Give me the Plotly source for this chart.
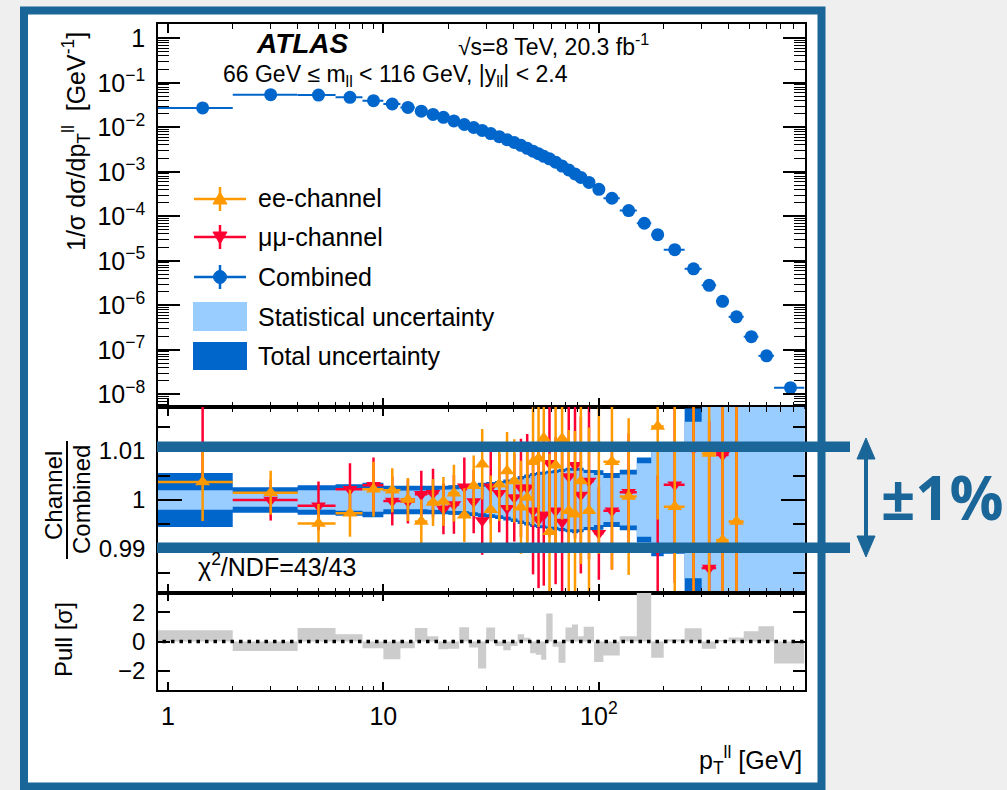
import math
import plotly.graph_objects as go

# ---------------- data ----------------
edges = [0, 2, 4, 6, 8, 10, 12, 14, 16, 18, 20, 22.5, 25, 27.5, 30, 33, 36, 39, 42, 45, 48,
         51, 54, 57, 61, 65, 70, 75, 80, 85, 95, 105, 125, 150, 175, 200, 250, 300, 350,
         400, 470, 550, 650, 900]
centers = [1.45, 3, 5, 7, 9, 11, 13, 15, 17, 19, 21.25, 23.75, 26.25, 28.75, 31.5, 34.5,
           37.5, 40.5, 43.5, 46.5, 49.5, 52.5, 55.5, 59, 63, 67.5, 72.5, 77.5, 82.5, 90,
           100, 115, 137.5, 162.5, 187.5, 225, 275, 325, 375, 435, 510, 600, 775]
combined = [0.0272, 0.0540, 0.0530, 0.0472, 0.0396, 0.0334, 0.0279, 0.0230, 0.0194, 0.0167,
            0.01386, 0.01156, 0.00990, 0.00851, 0.00722, 0.00615, 0.00524, 0.00455, 0.00394,
            0.00336, 0.00290, 0.00254, 0.00223, 0.00195, 0.00164, 0.00134, 0.00110, 0.000893,
            0.000745, 0.000575, 0.000404, 0.000254, 0.000134, 6.97e-5, 3.86e-5, 1.78e-5,
            6.6e-6, 2.81e-6, 1.23e-6, 5.5e-7, 1.97e-7, 7.3e-8, 1.41e-8]
ee_ratio = [1.0037, 1.0015, 0.9952, 0.9973, 1.0022, 1.0020, 1.0001, 0.9956, 0.9995, 0.9997,
            1.0014, 0.9969, 1.0029, 1.0073, 0.9980, 1.0032, 1.0059, 1.0039, 0.9985, 1.0005,
            1.0078, 1.0085, 1.0126, 0.9935, 1.0071, 1.0125, 0.9978, 0.9971, 1.0039, 0.9978,
            1.0110, 1.0078, 1.0007, None, 1.0150, 0.9986, 0.9905, 1.0095, 0.9918, 0.9956,
            None, None, None]
ee_err = [0.0080, 0.0045, 0.0040, 0.0048, 0.0056, 0.0045, 0.0044, 0.0045, 0.0048, 0.0050,
          0.0058, 0.0055, 0.0062, 0.0072, 0.0070, 0.0075, 0.0080, 0.0085, 0.0095, 0.0110,
          0.0130, 0.0140, 0.0150, 0.0160, 0.0160, 0.0165, 0.0165, 0.0170, 0.0170, 0.0170,
          0.0220, 0.0220, 0.0160, None, 0.0190, 0.0250, 0.0300, 0.0300, 0.0350, 0.0400,
          None, None, None]
mm_ratio = [1.0112, 1.0000, 0.9988, 1.0022, 1.0030, 0.9998, 0.9997, 1.0012, 1.0014, 0.9982,
            0.9991, 1.0027, 0.9997, 0.9958, 1.0027, 1.0014, 0.9983, 1.0005, 1.0025, 1.0025,
            0.9978, 0.9960, 0.9970, 1.0075, 0.9978, 0.9955, 1.0048, 1.0071, 1.0010, 1.0039,
            0.9932, 0.9978, 1.0016, None, 0.9900, 1.0031, 1.0105, 0.9861, 1.0092, 1.0108,
            None, None, None]
mm_err = [0.0085, 0.0042, 0.0050, 0.0053, 0.0057, 0.0050, 0.0045, 0.0048, 0.0050, 0.0052,
          0.0060, 0.0060, 0.0065, 0.0070, 0.0075, 0.0080, 0.0085, 0.0090, 0.0100, 0.0110,
          0.0130, 0.0140, 0.0145, 0.0150, 0.0150, 0.0155, 0.0150, 0.0150, 0.0160, 0.0160,
          0.0095, 0.0120, 0.0120, None, 0.0150, 0.0200, 0.0300, 0.0300, 0.0350, 0.0400,
          None, None, None]
tot_unc = [0.0055, 0.0026, 0.0030, 0.0032, 0.0035, 0.0029, 0.0028, 0.0028, 0.0028, 0.0029,
           0.0030, 0.0031, 0.0033, 0.0035, 0.0037, 0.0039, 0.0042, 0.0045, 0.0049, 0.0052,
           0.0055, 0.0057, 0.0058, 0.0060, 0.0062, 0.0064, 0.0066, 0.0068, 0.0066, 0.0062,
           0.0061, 0.0055, 0.0062, 0.0087, 0.0115, 0.0110, 0.0187, 0.040, 0.045, 0.050,
           0.060, 0.070, 0.080]
stat_unc = [0.0020, 0.0014, 0.0020, 0.0022, 0.0024, 0.0019, 0.0019, 0.0019, 0.0020, 0.0021,
            0.0022, 0.0023, 0.0025, 0.0027, 0.0029, 0.0031, 0.0034, 0.0038, 0.0042, 0.0045,
            0.0049, 0.0051, 0.0052, 0.0054, 0.0055, 0.0057, 0.0060, 0.0061, 0.0060, 0.0055,
            0.0051, 0.0045, 0.0052, 0.0075, 0.0105, 0.0100, 0.0160, 0.035, 0.040, 0.045,
            0.055, 0.065, 0.075]
pull = [0.76, -0.64, 0.92, 0.50, -0.46, -1.20, -0.46, 0.92, 0.35, -0.53,
        -0.50, 0.97, -0.40, -1.84, 0.95, -0.30, -0.60, -0.30, 0.50, 0.25,
        -0.80, -0.90, -1.25, 1.90, -0.35, -1.45, 0.95, 1.15, 0.35, 1.00,
        -1.40, -0.95, 0.35, 4.00, -1.10, 0.15, 0.90, -0.50, 0.10, 0.28,
        0.69, 1.03, -1.49]

x_tickvals = [1, 10, 100]
x_ticktext = ["1", "10", "10<sup>2</sup>"]
y_main_ticktext = ["1", "10<sup>−1</sup>", "10<sup>−2</sup>", "10<sup>−3</sup>", "10<sup>−4</sup>",
                   "10<sup>−5</sup>", "10<sup>−6</sup>", "10<sup>−7</sup>", "10<sup>−8</sup>"]
ratio_tickvals = [0.99, 1.0, 1.01]
ratio_ticktext = ["0.99", "1", "1.01"]
pull_tickvals = [-2, 0, 2]
pull_ticktext = ["−2", "0", "2"]

# ---------------- styling ----------------
W, H = 1007, 790
FONT = "Liberation Sans, Arial, sans-serif"
BLUE = "#0066cc"
LIGHT = "#99ccff"
ORANGE = "#ff9900"
RED = "#ff0033"
SLIDE = "#1b6698"
XMIN, XMAX = 0.9, 900
FL, FR = 158, 804.5  # frame in pixels


def P(px):
    return px / W


def Q(py):
    return 1 - py / H


X_DOM = [P(FL), P(FR)]
lo_edges = [max(e, 0.5) for e in edges[:-1]]
hi_edges = edges[1:]
ex_plus = [h - c for h, c in zip(hi_edges, centers)]
ex_minus = [c - l for l, c in zip(lo_edges, centers)]

fig = go.Figure()

# main panel: combined
fig.add_trace(go.Scatter(
    x=centers, y=combined, mode="markers", xaxis="x", yaxis="y",
    marker=dict(symbol="circle", size=13, color=BLUE),
    error_x=dict(type="data", symmetric=False, array=ex_plus, arrayminus=ex_minus,
                 thickness=2, width=0, color=BLUE),
))


# ratio panel bands
def band_poly(half):
    xs, up, dn = [], [], []
    for l, h, v in zip(lo_edges, hi_edges, half):
        xs += [l, h]
        up += [1 + v, 1 + v]
        dn += [1 - v, 1 - v]
    return xs + xs[::-1], up + dn[::-1]


for half, col in ((tot_unc, BLUE), (stat_unc, LIGHT)):
    bx, by = band_poly(half)
    fig.add_trace(go.Scatter(x=bx, y=by, mode="lines", fill="toself", fillcolor=col,
                             line=dict(width=0, color=col), xaxis="x2", yaxis="y2",
                             hoverinfo="skip"))


def chan_trace(vals, errs, col, sym):
    xs, ys, es, ep, em = [], [], [], [], []
    for c, v, e, p, m in zip(centers, vals, errs, ex_plus, ex_minus):
        if v is None:
            continue
        xs.append(c); ys.append(v); es.append(e); ep.append(p); em.append(m)
    return go.Scatter(
        x=xs, y=ys, mode="markers", xaxis="x2", yaxis="y2",
        marker=dict(symbol=sym, size=13, color=col),
        error_y=dict(type="data", array=es, thickness=2.5, width=0, color=col),
        error_x=dict(type="data", symmetric=False, array=ep, arrayminus=em,
                     thickness=2.5, width=0, color=col),
        cliponaxis=True,
    )


fig.add_trace(chan_trace(mm_ratio, mm_err, RED, "triangle-down"))
fig.add_trace(chan_trace(ee_ratio, ee_err, ORANGE, "triangle-up"))

# pull panel
fig.add_trace(go.Scatter(
    x=lo_edges + [hi_edges[-1]], y=pull + [pull[-1]], mode="lines", line_shape="hv",
    fill="tozeroy", fillcolor="#cccccc", line=dict(width=0, color="rgba(0,0,0,0)"),
    xaxis="x3", yaxis="y3", hoverinfo="skip"))
fig.add_trace(go.Scatter(
    x=[0.5, 1000], y=[0, 0], mode="lines", line=dict(color="black", width=3.5, dash="3.5px,5px"),
    xaxis="x3", yaxis="y3", hoverinfo="skip"))

x_minor = [k * 10 ** d for d in range(-1, 3) for k in range(2, 10)]
y_minor = [k * 10.0 ** d for d in range(-9, 1) for k in range(2, 10)]


def xax(anchor, mj, mn, labels):
    return dict(
        type="log", range=[math.log10(XMIN), math.log10(XMAX)], domain=X_DOM, anchor=anchor,
        showgrid=False, zeroline=False, showline=True, linecolor="black", linewidth=1.6,
        mirror="ticks", ticks="inside", ticklen=mj, tickwidth=1.5, tickcolor="black",
        tickmode="array", tickvals=x_tickvals, ticktext=x_ticktext, showticklabels=labels,
        tickfont=dict(size=25, color="black", family=FONT), ticklabelstandoff=3,
        minor=dict(ticks="inside", ticklen=mn, tickwidth=1.2, tickcolor="black",
                   tickmode="array", tickvals=x_minor, showgrid=False),
    )


layout = dict(
    width=W, height=H, margin=dict(l=0, r=0, t=0, b=0),
    paper_bgcolor="#efefef", plot_bgcolor="white", showlegend=False,
    font=dict(family=FONT, color="black"),
    xaxis=xax("y", 9, 5, False),
    xaxis2=xax("y2", 9, 5, False),
    xaxis3=xax("y3", 8, 4, True),
    yaxis=dict(
        type="log", range=[-8.286, 0.321], domain=[Q(407), Q(24)], anchor="x",
        showgrid=False, zeroline=False, showline=True, linecolor="black", linewidth=1.6,
        mirror="ticks", ticks="inside", ticklen=22, tickwidth=1.5, tickcolor="black",
        tickmode="array", tickvals=[10.0 ** -k for k in range(9)], ticktext=y_main_ticktext,
        tickfont=dict(size=25, color="black", family=FONT), ticklabelstandoff=6,
        minor=dict(ticks="inside", ticklen=11, tickwidth=1.2, tickcolor="black",
                   tickmode="array", tickvals=y_minor, showgrid=False),
    ),
    yaxis2=dict(
        range=[0.981, 1.019], domain=[Q(593), Q(407)], anchor="x2",
        showgrid=False, zeroline=False, showline=True, linecolor="black", linewidth=1.6,
        mirror="ticks", ticks="inside", ticklen=24, tickwidth=1.5, tickcolor="black",
        tickmode="array", tickvals=ratio_tickvals, ticktext=ratio_ticktext,
        tickfont=dict(size=24, color="black", family=FONT), ticklabelstandoff=6,
        minor=dict(ticks="inside", ticklen=12, tickwidth=1.5, tickcolor="black",
                   tickmode="array", tickvals=[0.985, 0.995, 1.005, 1.015], showgrid=False),
    ),
    yaxis3=dict(
        range=[-3.3, 3.3], domain=[Q(690), Q(593)], anchor="x3",
        showgrid=False, zeroline=False, showline=True, linecolor="black", linewidth=1.6,
        mirror="ticks", ticks="inside", ticklen=12, tickwidth=1.5, tickcolor="black",
        tickmode="array", tickvals=pull_tickvals, ticktext=pull_ticktext,
        tickfont=dict(size=24, color="black", family=FONT), ticklabelstandoff=6,
    ),
)
fig.update_layout(**layout)

shapes = []
# slide frame
shapes.append(dict(type="rect", xref="paper", yref="paper", layer="below",
                   x0=P(24), x1=P(821.5), y0=Q(786.5), y1=Q(10.5),
                   line=dict(color=SLIDE, width=8), fillcolor="white"))


# legend symbols
def leg_marker(py, col, kind):
    out = [
        dict(type="line", xref="paper", yref="paper", x0=P(194), x1=P(246), y0=Q(py), y1=Q(py),
             line=dict(color=col, width=2.5)),
        dict(type="line", xref="paper", yref="paper", x0=P(220), x1=P(220), y0=Q(py - 12),
             y1=Q(py + 12), line=dict(color=col, width=2.5)),
    ]
    if kind == "up":
        path = "M %f,%f L %f,%f L %f,%f Z" % (P(213), Q(py + 5), P(227), Q(py + 5), P(220), Q(py - 7))
        out.append(dict(type="path", xref="paper", yref="paper", path=path, fillcolor=col,
                        line=dict(color=col, width=1)))
    elif kind == "down":
        path = "M %f,%f L %f,%f L %f,%f Z" % (P(213), Q(py - 5), P(227), Q(py - 5), P(220), Q(py + 7))
        out.append(dict(type="path", xref="paper", yref="paper", path=path, fillcolor=col,
                        line=dict(color=col, width=1)))
    else:
        out.append(dict(type="circle", xref="paper", yref="paper", x0=P(213.5), x1=P(226.5),
                        y0=Q(py + 6.5), y1=Q(py - 6.5), fillcolor=col, line=dict(color=col, width=1)))
    return out


shapes += leg_marker(199, ORANGE, "up")
shapes += leg_marker(237, RED, "down")
shapes += leg_marker(277, BLUE, "circle")
shapes.append(dict(type="rect", xref="paper", yref="paper", x0=P(193), x1=P(247), y0=Q(331),
                   y1=Q(302), fillcolor=LIGHT, line=dict(width=0)))
shapes.append(dict(type="rect", xref="paper", yref="paper", x0=P(193), x1=P(247), y0=Q(370),
                   y1=Q(342), fillcolor=BLUE, line=dict(width=0)))

# ratio-title fraction line
shapes.append(dict(type="line", xref="paper", yref="paper", x0=P(67), x1=P(67), y0=Q(441),
                   y1=Q(559), line=dict(color="black", width=2)))

# +-1% overlay
for y0, y1 in ((441.5, 452), (542.5, 553)):
    shapes.append(dict(type="rect", xref="paper", yref="paper", layer="above", x0=P(157),
                       x1=P(850), y0=Q(y1), y1=Q(y0), fillcolor=SLIDE, line=dict(width=0)))
shapes.append(dict(type="line", xref="paper", yref="paper", layer="above", x0=P(866), x1=P(866),
                   y0=Q(452), y1=Q(543), line=dict(color=SLIDE, width=4)))
shapes.append(dict(type="path", xref="paper", yref="paper", layer="above",
                   path="M %f,%f L %f,%f L %f,%f Z" % (P(857), Q(459), P(875), Q(459), P(866), Q(438)),
                   fillcolor=SLIDE, line=dict(color=SLIDE, width=1)))
shapes.append(dict(type="path", xref="paper", yref="paper", layer="above",
                   path="M %f,%f L %f,%f L %f,%f Z" % (P(857), Q(536), P(875), Q(536), P(866), Q(557)),
                   fillcolor=SLIDE, line=dict(color=SLIDE, width=1)))

ann = []


def text(s, px, py, size=25, xa="left", angle=0, color="black", family=FONT):
    ann.append(dict(text=s, x=P(px), y=Q(py), xref="paper", yref="paper", showarrow=False,
                    xanchor=xa, yanchor="middle", textangle=angle,
                    font=dict(size=size, color=color, family=family)))


text("<b><i>ATLAS</i></b>", 302, 44, size=28, xa="center")
text("√s=8 TeV, 20.3 fb<sup>-1</sup>", 456, 45, size=23)
text("66 GeV ≤ m<sub>ll</sub> &lt; 116 GeV, |y<sub>ll</sub>| &lt; 2.4", 221, 76, size=23)
text("ee-channel", 256, 198)
text("μμ-channel", 256, 237)
text("Combined", 256, 277)
text("Statistical uncertainty", 256, 317)
text("Total uncertainty", 256, 356)
text("χ<sup>2</sup>/NDF=43/43", 196, 565)
text("1/σ dσ/dp<sub>T</sub><sup>ll</sup>  [GeV<sup>-1</sup>]", 76, 142, angle=-90, xa="center")
text("Channel", 53, 496, size=24, angle=-90, xa="center")
text("Combined", 81, 500, size=24, angle=-90, xa="center")
text("Pull [σ]", 63, 640, size=24, angle=-90, xa="center")
text("p<sub>T</sub><sup>ll</sup> [GeV]", 804, 760, xa="right")
text("<b>±1%</b>", 879, 497, size=60, color=SLIDE, family="Open Sans, Liberation Sans, sans-serif")

fig.update_layout(shapes=shapes, annotations=ann)
fig.write_html(
    "out.html",
    config={"displayModeBar": False},
    post_script="document.body.style.margin='0';document.body.style.background='#efefef';",
)
